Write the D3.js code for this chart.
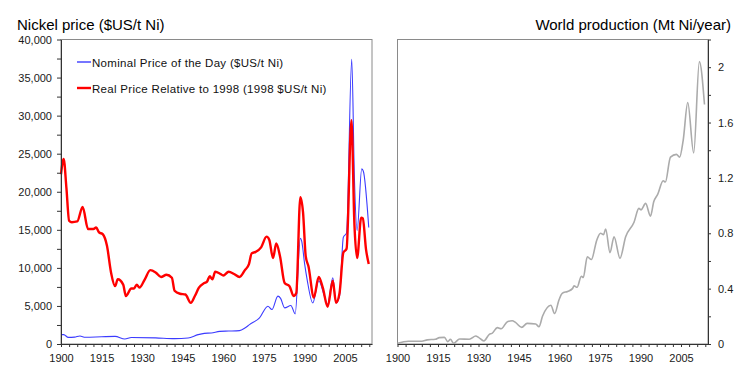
<!DOCTYPE html>
<html>
<head>
<meta charset="utf-8">
<script src="https://cdn.jsdelivr.net/npm/d3@7"></script>
<style>
  body { margin: 0; background: #fff; }
  svg { display: block; font-family: "Liberation Sans", Arial, sans-serif; }
  .axis text { font-size: 11px; fill: #1a1a1a; }
  .axis path, .axis line { stroke: #333; }
</style>
</head>
<body>
<div id="chart"></div>
<script>
// Nominal price, $US/t Ni
const nominalYears = [1900, 1901, 1902.7, 1905, 1907, 1909, 1915, 1920, 1923.6, 1926, 1935, 1942, 1947, 1950.7, 1953, 1955.6, 1958.7, 1962, 1966, 1968, 1969.7, 1973.4, 1976.5, 1978, 1980.2, 1981.2, 1982.7, 1985, 1986.6, 1988.5, 1989, 1990.1, 1991, 1993.1, 1995.3, 1997.4, 1998.6, 2000.5, 2001.7, 2003, 2004.4, 2005.6, 2007.5, 2008.5, 2009.5, 2011.2, 2011.8, 2013.8];
const nominalValues = [1230, 1230, 870, 900, 1050, 880, 950, 1000, 660, 850, 800, 700, 790, 1230, 1400, 1450, 1660, 1700, 1760, 2100, 2550, 3430, 4960, 4530, 6290, 6000, 4750, 5060, 3960, 13900, 13500, 10500, 8500, 5400, 8300, 6300, 5200, 8700, 5400, 6300, 14000, 14600, 37400, 21700, 14900, 23000, 22700, 15300];

// Real price relative to 1998, 1998 $US/t Ni
const realYears = [1900, 1901, 1902, 1903, 1904, 1906, 1908, 1910, 1912, 1913, 1914, 1915.5, 1917, 1918.5, 1920, 1921, 1923, 1924, 1926, 1927, 1928, 1929, 1931, 1933, 1935, 1937, 1939, 1941, 1942, 1944, 1946, 1948, 1949.5, 1951, 1953, 1954, 1955, 1956, 1957, 1959, 1960, 1962, 1964, 1966, 1968, 1969.5, 1970.5, 1972, 1974, 1976, 1977, 1978.4, 1979.6, 1981, 1982.7, 1984.5, 1986, 1987, 1988.5, 1989.5, 1990.5, 1991.5, 1993.5, 1995.3, 1996.8, 1998.6, 2000.5, 2001.7, 2003, 2004.4, 2005.6, 2007.4, 2008.5, 2009.5, 2011, 2011.6, 2012.8, 2013.8];
const realValues = [22300, 24300, 20500, 16200, 16000, 16100, 18000, 15100, 15100, 15300, 14700, 14400, 12900, 9400, 7600, 8500, 7800, 6300, 7300, 7300, 7800, 7400, 8500, 9700, 9400, 8800, 9100, 8700, 7000, 6600, 6500, 5400, 6300, 7400, 8000, 8200, 8900, 8500, 9500, 9200, 9000, 9500, 9200, 8800, 9700, 10500, 11900, 12100, 12700, 14100, 13700, 11300, 13200, 11500, 8000, 7600, 6300, 6700, 19300, 17300, 11500, 10200, 6100, 8800, 7400, 4900, 8300, 5400, 6700, 12000, 12500, 29400, 15700, 11300, 16600, 16500, 12400, 10500];

// World production, Mt Ni/year
const prodYears = [1900, 1904, 1909, 1911, 1914, 1915.5, 1917.4, 1918.6, 1919.6, 1920.8, 1923, 1926.6, 1929, 1930, 1932, 1934, 1935, 1937, 1938.4, 1940.7, 1942.5, 1943.7, 1946, 1948, 1951.2, 1952.4, 1953.7, 1956.8, 1958.2, 1959.8, 1961, 1963, 1964.8, 1965.4, 1966.5, 1968.1, 1968.8, 1970.3, 1971.8, 1973.8, 1975.2, 1976.3, 1977.1, 1978.7, 1980.2, 1982.4, 1984.5, 1987.6, 1989.4, 1990.2, 1991.9, 1993.7, 1994.9, 1996.4, 1998.4, 1999.2, 2001.1, 2003.3, 2004.5, 2005.8, 2007.5, 2009.7, 2011.8, 2013.7];
const prodValues = [0.005, 0.02, 0.02, 0.03, 0.034, 0.046, 0.048, 0.017, 0.034, 0.005, 0.036, 0.034, 0.058, 0.048, 0.022, 0.07, 0.077, 0.118, 0.11, 0.161, 0.168, 0.156, 0.12, 0.149, 0.144, 0.125, 0.2, 0.28, 0.22, 0.318, 0.366, 0.38, 0.4, 0.42, 0.41, 0.49, 0.48, 0.63, 0.61, 0.75, 0.8, 0.79, 0.83, 0.66, 0.775, 0.62, 0.775, 0.88, 0.98, 0.97, 1.016, 0.924, 1.027, 1.083, 1.18, 1.17, 1.35, 1.37, 1.35, 1.47, 1.745, 1.38, 2.04, 1.73];

const xTicks = d3.range(1900, 2015, 3);
const xLabels = [1900, 1915, 1930, 1945, 1960, 1975, 1990, 2005];
const priceTicks = d3.range(0, 40001, 2500);
const prodTicks = d3.range(0, 2.21, 0.2);
const prodLabels = [0, 0.4, 0.8, 1.2, 1.6, 2];

const legendItems = [
  { label: 'Nominal Price of the Day ($US/t Ni)', color: '#3b3bff' },
  { label: 'Real Price Relative to 1998 (1998 $US/t Ni)', color: '#ff0000' }
];

const W = 754, H = 383;
const plotTop = 39.5, plotBottom = 344;

const svg = d3.select('#chart').append('svg')
  .attr('width', W)
  .attr('height', H);

const zip = (xs, ys) => xs.map((x, i) => ({ x: x, y: ys[i] }));

const isLabel = (list, v) => list.some(l => Math.abs(l - v) < 1e-6);

// ---- left panel: prices
const xL = d3.scaleLinear().domain([1900, 2015]).range([61, 372]);
const yL = d3.scaleLinear().domain([0, 40000]).range([plotBottom, plotTop]);

svg.append('rect')
  .attr('x', xL.range()[0]).attr('y', plotTop)
  .attr('width', xL.range()[1] - xL.range()[0])
  .attr('height', plotBottom - plotTop)
  .attr('fill', 'none').attr('stroke', '#8a8a8a');

const lineL = d3.line()
  .x(d => xL(d.x))
  .y(d => yL(d.y))
  .curve(d3.curveMonotoneX);

svg.append('path')
  .datum(zip(nominalYears, nominalValues))
  .attr('d', lineL)
  .attr('fill', 'none')
  .attr('stroke', legendItems[0].color)
  .attr('stroke-width', 1.1);

svg.append('path')
  .datum(zip(realYears, realValues))
  .attr('d', lineL)
  .attr('fill', 'none')
  .attr('stroke', legendItems[1].color)
  .attr('stroke-width', 2.4)
  .attr('stroke-linejoin', 'round');

svg.append('g')
  .attr('class', 'axis')
  .attr('transform', 'translate(61,0)')
  .call(d3.axisLeft(yL)
    .tickValues(priceTicks)
    .tickSize(4)
    .tickPadding(5)
    .tickSizeOuter(0)
    .tickFormat(d => (d % 5000 === 0 ? d3.format(',')(d) : '')));

svg.append('g')
  .attr('class', 'axis')
  .attr('transform', 'translate(0,' + plotBottom + ')')
  .call(d3.axisBottom(xL)
    .tickValues(xTicks)
    .tickSize(3)
    .tickPadding(7)
    .tickSizeOuter(0)
    .tickFormat(d => (isLabel(xLabels, d) ? d : '')));

// legend
const legend = svg.append('g');
legendItems.forEach((item, i) => {
  const y = 62 + i * 26;
  legend.append('line')
    .attr('x1', 77).attr('x2', 91)
    .attr('y1', y).attr('y2', y)
    .attr('stroke', item.color)
    .attr('stroke-width', i === 1 ? 2.4 : 1.4);
  legend.append('text')
    .attr('x', 92).attr('y', y + 5)
    .attr('font-size', 11.5)
    .attr('letter-spacing', 0.3)
    .attr('fill', '#111')
    .text(item.label);
});

svg.append('text')
  .attr('x', 17).attr('y', 30)
  .attr('font-size', 15)
  .attr('fill', '#000')
  .text('Nickel price ($US/t Ni)');

// ---- right panel: production
const xR = d3.scaleLinear().domain([1900, 2015]).range([397.5, 708]);
const yR = d3.scaleLinear().domain([0, 2.2]).range([plotBottom, plotTop]);

svg.append('rect')
  .attr('x', xR.range()[0]).attr('y', plotTop)
  .attr('width', xR.range()[1] - xR.range()[0])
  .attr('height', plotBottom - plotTop)
  .attr('fill', 'none').attr('stroke', '#8a8a8a');

svg.append('path')
  .datum(zip(prodYears, prodValues))
  .attr('d', d3.line()
    .x(d => xR(d.x))
    .y(d => yR(d.y))
    .curve(d3.curveMonotoneX))
  .attr('fill', 'none')
  .attr('stroke', '#ababab')
  .attr('stroke-width', 1.6);

svg.append('g')
  .attr('class', 'axis')
  .attr('transform', 'translate(708,0)')
  .call(d3.axisRight(yR)
    .tickValues(prodTicks)
    .tickSize(3)
    .tickPadding(7)
    .tickSizeOuter(0)
    .tickFormat(d => (isLabel(prodLabels, d) ? d3.format('~g')(+d.toFixed(1)) : '')));

svg.append('g')
  .attr('class', 'axis')
  .attr('transform', 'translate(0,' + plotBottom + ')')
  .call(d3.axisBottom(xR)
    .tickValues(xTicks)
    .tickSize(3)
    .tickPadding(7)
    .tickSizeOuter(0)
    .tickFormat(d => (isLabel(xLabels, d) ? d : '')));

svg.append('text')
  .attr('x', 731).attr('y', 30)
  .attr('text-anchor', 'end')
  .attr('font-size', 15)
  .attr('fill', '#000')
  .text('World production (Mt Ni/year)');
</script>
</body>
</html>
